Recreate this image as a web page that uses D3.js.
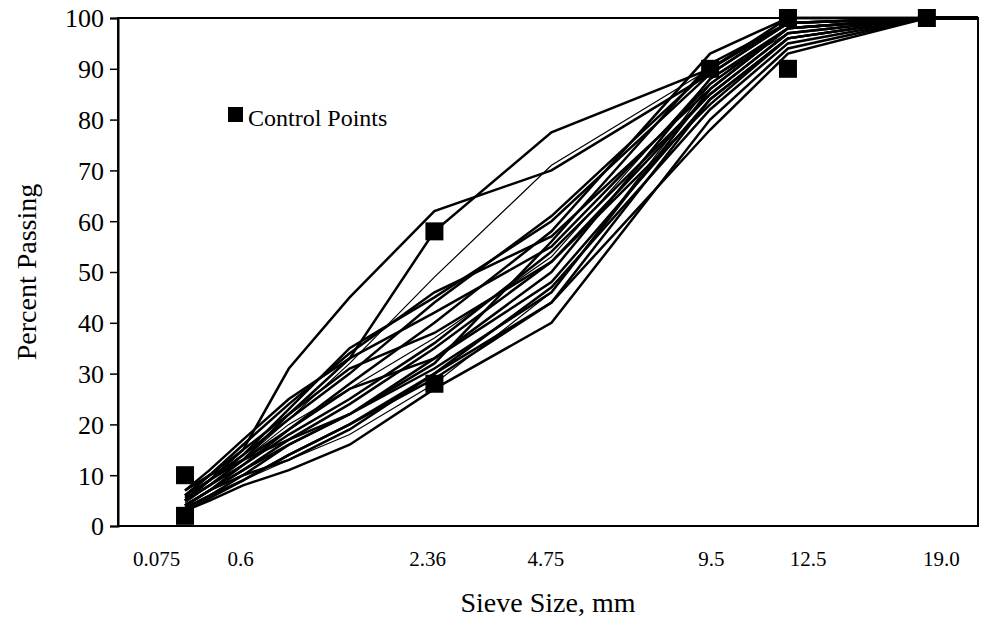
<!DOCTYPE html>
<html>
<head>
<meta charset="utf-8">
<script src="https://cdn.jsdelivr.net/npm/d3@7"></script>
<style>
  html, body { margin: 0; padding: 0; background: #fff; }
  svg { display: block; }
  text { font-family: "Liberation Serif", "Times New Roman", serif; fill: #000; }
</style>
</head>
<body>
<svg id="chart" width="982" height="632"></svg>
<script>
// Sieve sizes (mm), plotted on a 0.45-power axis
const sieves = [0.075, 0.15, 0.3, 0.6, 1.18, 2.36, 4.75, 9.5, 12.5, 19, 25];

// Percent passing for each gradation (same order as sieves)
const gradations = [
  [5.5, 9, 15, 31, 45, 62, 70, 89, 99, 100, 100],
  [5, 8, 13, 22, 33, 58, 77.5, 90, 100, 100, 100],
  [4.5, 8, 13, 21, 32, 49, 71, 90, 99, 100, 100],
  [6, 10, 16, 24, 34, 46, 57, 86, 98, 100, 100],
  [5, 9, 14, 21, 30, 44, 61, 90, 99, 100, 100],
  [7, 11, 17, 25, 33, 42, 55, 87, 98, 100, 100],
  [4, 7, 12, 19, 28, 40, 58, 93, 100, 100, 100],
  [5, 8, 13, 20, 27, 37, 53, 88, 97, 100, 100],
  [4, 7, 11, 17, 24, 35, 52, 85, 97, 100, 100],
  [3.5, 6, 10, 16, 22, 33, 48, 84, 96, 100, 100],
  [4, 7, 11, 16, 22, 31, 46, 86, 98, 100, 100],
  [3.5, 6, 9, 14, 20, 30, 47, 82, 95, 100, 100],
  [3, 5.5, 9, 14, 20, 29, 44, 84, 96, 100, 100],
  [3.5, 6, 9, 13, 18, 28, 46, 87, 98, 100, 100],
  [3, 5, 8, 11, 16, 27, 40, 80, 94, 100, 100],
  [4, 7, 10, 13, 19, 30, 44, 78, 93, 100, 100],
  [6, 10, 15, 22, 31, 38, 52, 83, 96, 100, 100],
  [5, 9, 14, 23, 35, 45, 60, 89, 99, 100, 100],
  [7, 10, 13, 17, 22, 32, 56, 91, 99, 100, 100],
  [5, 8, 12, 18, 25, 36, 54, 85, 97, 100, 100],
  [6, 9, 13, 19, 27, 33, 50, 88, 98, 100, 100]
];
// Gradations drawn with a thin line
const thinLines = [2, 7, 13];

// Control points (sieve mm, percent passing)
const controlSieve = [0.075, 0.075, 2.36, 2.36, 9.5, 12.5, 12.5, 19];
const controlPass  = [2, 10, 28, 58, 90, 90, 100, 100];

// Axis tick labels
const yTicks = [0, 10, 20, 30, 40, 50, 60, 70, 80, 90, 100];
const xTickLabels = ["0.075", "0.6", "2.36", "4.75", "9.5", "12.5", "19.0"];
const xTickLabelAt = [0.18, 0.57, 1.44, 1.99, 2.76, 3.21, 3.83]; // positions in (mm^0.45) units

const svg = d3.select("#chart");
const L = 118, R = 978, T = 18, B = 526;

const xp = d3.scaleLinear().domain([0, 4]).range([L, R]);
const xs = d => xp(Math.pow(d, 0.45));
const y = d3.scaleLinear().domain([0, 100]).range([B, T]);

svg.append("defs").append("clipPath").attr("id", "plotclip")
  .append("rect").attr("x", L).attr("y", T - 2).attr("width", R - L).attr("height", B - T + 4);

// Gradation lines
const line = d3.line().x(d => xs(d[0])).y(d => y(d[1]));
svg.append("g").attr("clip-path", "url(#plotclip)")
  .selectAll("path").data(gradations).join("path")
  .attr("d", g => line(g.map((v, i) => [sieves[i], v])))
  .attr("fill", "none").attr("stroke", "#000")
  .attr("stroke-width", (g, i) => thinLines.includes(i) ? 1.2 : 2.5)
  .attr("stroke-linejoin", "miter");

// Frame
svg.append("rect").attr("x", L).attr("y", T).attr("width", R - L).attr("height", B - T)
  .attr("fill", "none").attr("stroke", "#000").attr("stroke-width", 2);

// Y axis
const yAxis = svg.append("g").attr("transform", `translate(${L},0)`)
  .call(d3.axisLeft(y).tickValues(yTicks).tickSize(8).tickPadding(6).tickFormat(d3.format("d")));
yAxis.select(".domain").attr("stroke-width", 2);
yAxis.selectAll(".tick line").attr("stroke-width", 1.5);
yAxis.selectAll(".tick text").style("font-size", "26px").style("font-family", "Liberation Serif, serif").attr("dy", "0.34em");

// X tick labels
svg.append("g").selectAll("text").data(xTickLabels).join("text")
  .attr("x", (d, i) => xp(xTickLabelAt[i])).attr("y", 566)
  .attr("text-anchor", "middle").style("font-size", "21px").text(d => d);

// Control points
const cs = 18;
svg.append("g").selectAll("rect").data(controlSieve).join("rect")
  .attr("x", (d) => xs(d) - cs / 2).attr("y", (d, i) => y(controlPass[i]) - cs / 2)
  .attr("width", cs).attr("height", cs).attr("fill", "#000");

// Legend
svg.append("rect").attr("x", 228).attr("y", 107).attr("width", 15).attr("height", 15).attr("fill", "#000");
svg.append("text").attr("x", 248).attr("y", 126).style("font-size", "24px").text("Control Points");

// Axis titles
svg.append("text").attr("x", (L + R) / 2).attr("y", 612).attr("text-anchor", "middle")
  .style("font-size", "28px").text("Sieve Size, mm");
svg.append("text").attr("transform", `translate(36,${(T + B) / 2}) rotate(-90)`)
  .attr("text-anchor", "middle").style("font-size", "28px").text("Percent Passing");
</script>
</body>
</html>
